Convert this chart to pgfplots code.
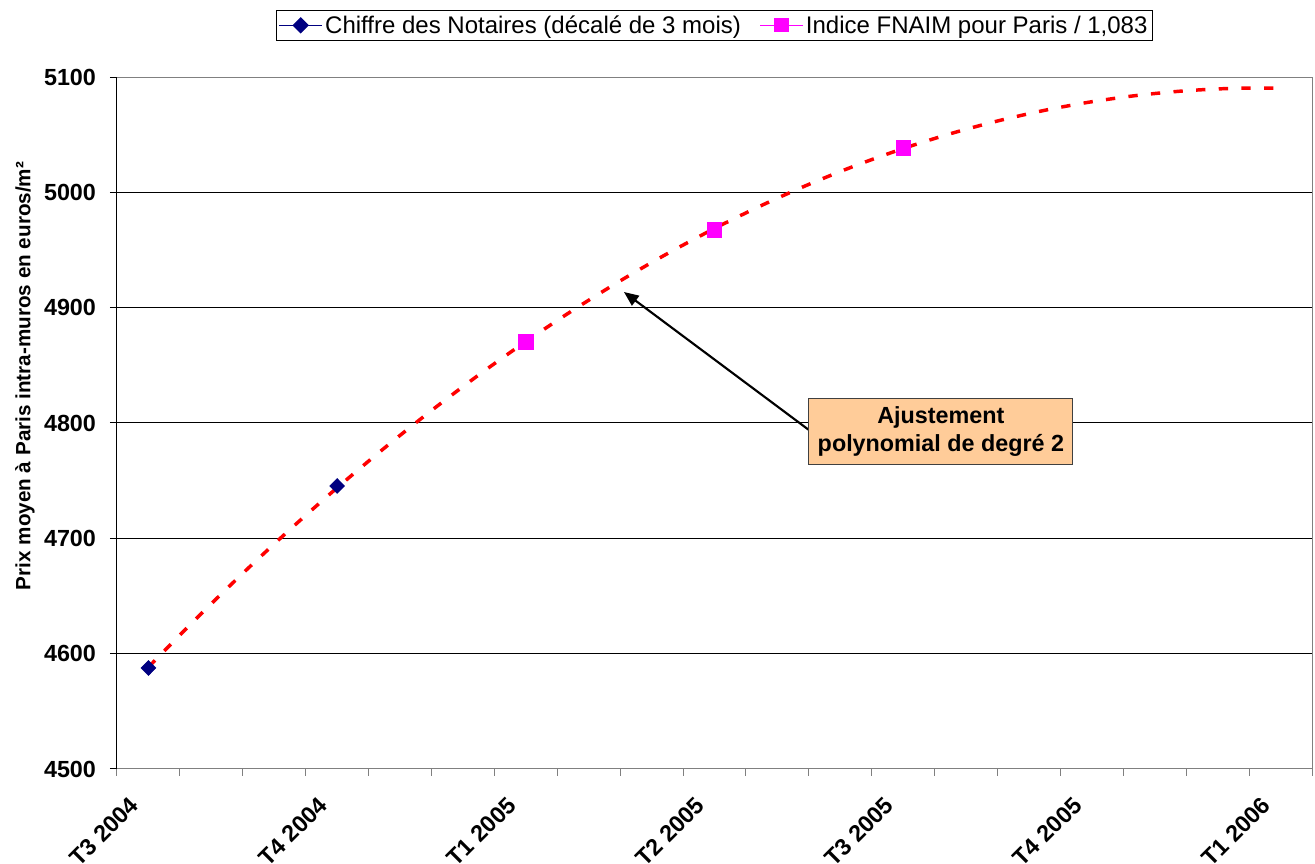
\documentclass[border=0pt]{standalone}
\usepackage{fontspec}
\setmainfont{Liberation Sans}
\usepackage{pgfplots}
\pgfplotsset{compat=1.18}
\usetikzlibrary{arrows.meta}
\definecolor{navyc}{RGB}{0,0,128}
\definecolor{magc}{RGB}{255,0,255}
\definecolor{peach}{RGB}{255,204,153}
\definecolor{axgray}{RGB}{128,128,128}
\newcommand\cf{\fontsize{17.5pt}{21pt}\selectfont}
\begin{document}
\begin{tikzpicture}
\useasboundingbox (-87.75pt,-71.25pt) rectangle (898.5pt,576.75pt);
\begin{axis}[
  at={(0,0)}, anchor=south west, scale only axis,
  width=896.25pt, height=519pt,
  xmin=0, xmax=19, ymin=4500, ymax=5100,
  xtick={0,...,19},
  xticklabels={T3 2004,,,T4 2004,,,T1 2005,,,T2 2005,,,T3 2005,,,T4 2005,,,T1 2006,},
  ytick={4500,4600,...,5100},
  xtick pos=bottom, ytick pos=left,
  /pgf/number format/assume math mode=true,
  /pgf/number format/1000 sep={},
  tick align=outside,
  major tick length=5.25pt,
  xtick style={axgray, line width=0.75pt},
  ytick style={black, line width=0.75pt},
  tick label style={font=\cf\bfseries},
  xticklabel style={font=\fontsize{17.5pt}{21pt}\selectfont\bfseries, anchor=east, xshift=15.5pt, yshift=-16.5pt, rotate=45},
  yticklabel style={xshift=-7pt},
  ymajorgrids,
  grid style={black, line width=0.75pt},
  axis line style={axgray, line width=0.75pt},
  ylabel={Prix moyen à Paris intra-muros en euros/m²},
  ylabel style={font=\fontsize{15.5pt}{18pt}\selectfont\bfseries, at={(axis description cs:-0.077,0.568)}, anchor=center},
  legend style={at={(0.5,1)}, anchor=south, yshift=27pt, legend columns=2,
    draw=black, line width=0.75pt, font=\fontsize{18pt}{21pt}\selectfont, inner sep=2pt,
    /tikz/every even column/.append style={column sep=12pt}},
  legend image code/.code={\draw[mark repeat=2,mark phase=2,#1] plot coordinates {(0pt,0pt) (16pt,0pt) (32pt,0pt)};},
  clip=false,
]
\addlegendimage{navyc, line width=0.75pt, mark=diamond*, mark size=5.6pt, mark options={solid, fill=navyc, xscale=1.33}}
\addlegendentry{Chiffre des Notaires (décalé de 3 mois)}
\addlegendimage{magc, line width=0.75pt, mark=square*, mark size=5pt, mark options={solid, fill=magc}}
\addlegendentry{Indice FNAIM pour Paris / 1,083}

\addplot[forget plot, only marks, mark=diamond*, mark size=5.6pt, color=navyc, mark options={fill=navyc, xscale=1.33}]
  coordinates {(0.5,4587.6) (3.5,4745.4)};
\addplot[forget plot, only marks, mark=square*, mark size=5.4pt, color=magc, mark options={fill=magc}]
  coordinates {(6.5,4870.3) (9.5,4967.5) (12.5,5038.6)};
\addplot[forget plot, red, line width=2.6pt, dash pattern=on 7pt off 10pt, smooth]
  coordinates {
  (0.5,4588.33) (1.25,4629.90) (2,4669.67) (2.75,4707.66) (3.5,4743.84)
  (4.25,4778.22) (5,4810.81) (5.75,4841.61) (6.5,4870.61) (7.25,4897.81)
  (8,4923.23) (8.75,4946.84) (9.5,4968.66) (10.25,4988.68) (11,5006.91)
  (11.75,5023.34) (12.5,5037.97) (13.25,5050.81) (14,5061.86) (14.75,5071.11)
  (15.5,5078.56) (16.25,5084.22) (17,5088.09) (17.75,5090.16) (18.5,5090.43)};

\draw[black, line width=0.75pt] (rel axis cs:0,0) -- (rel axis cs:0,1);
\draw[black, line width=1.6pt, -{Triangle[length=11pt,width=9pt]}]
  (axis cs:11.0,4794) -- (axis cs:8.06,4913.6);
\node[draw=darkgray, fill=peach, line width=0.75pt, align=center, font=\cf\bfseries,
  minimum width=198pt, minimum height=49.5pt, inner sep=0pt]
  at (axis cs:13.1,4793) {Ajustement\\polynomial de degré 2};
\end{axis}
\end{tikzpicture}
\end{document}
